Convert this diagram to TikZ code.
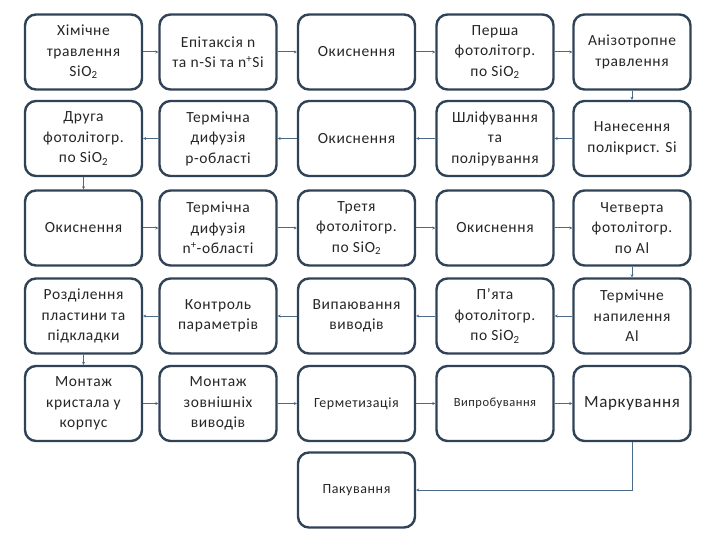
\documentclass[tikz,border=0pt]{standalone}
\usepackage{fontspec}
\setmainfont{Carlito}[LetterSpace=4]
\usetikzlibrary{arrows.meta}
\definecolor{bd}{HTML}{2F4256}
\definecolor{ln}{HTML}{4A6A8A}
\newcommand{\sub}[1]{\textsubscript{#1}}
\newcommand{\supp}[1]{\textsuperscript{#1}}
\begin{document}
\begin{tikzpicture}[x=1pt,y=-1pt,
 box/.style={draw=bd,line width=2.4pt,rounded corners=11pt,fill=white,minimum width=117pt,minimum height=75pt,inner sep=2pt,align=center,font=\fontsize{15.5}{20.5}\selectfont,text=black!85},
 ar/.style={draw=ln,line width=1pt,-{Stealth[length=3pt,width=3pt]}}]
\useasboundingbox (0,0) rectangle (720,540);
\def\xa{83.5}\def\xb{218}\def\xc{356.5}\def\xd{495}\def\xe{632}
\def\ya{52}\def\yb{138.5}\def\yc{228}\def\yd{316}\def\ye{403.5}
\node[box] (a1) at (\xa,\ya) {Хімічне\\травлення\\SiO\sub{2}};
\node[box] (a2) at (\xb,\ya) {Епітаксія n\\та n-Si та n\supp{+}Si};
\node[box] (a3) at (\xc,\ya) {Окиснення};
\node[box] (a4) at (\xd,\ya) {Перша\\фотолітогр.\\по SiO\sub{2}};
\node[box] (a5) at (\xe,\ya) {Анізотропне\\травлення};
\node[box] (b1) at (\xa,\yb) {Друга\\фотолітогр.\\по SiO\sub{2}};
\node[box] (b2) at (\xb,\yb) {Термічна\\дифузія\\р-області};
\node[box] (b3) at (\xc,\yb) {Окиснення};
\node[box] (b4) at (\xd,\yb) {Шліфування\\та\\полірування};
\node[box] (b5) at (\xe,\yb) {Нанесення\\полікрист. Si};
\node[box] (c1) at (\xa,\yc) {Окиснення};
\node[box] (c2) at (\xb,\yc) {Термічна\\дифузія\\n\supp{+}-області};
\node[box] (c3) at (\xc,\yc) {Третя\\фотолітогр.\\по SiO\sub{2}};
\node[box] (c4) at (\xd,\yc) {Окиснення};
\node[box] (c5) at (\xe,\yc) {Четверта\\фотолітогр.\\по Al};
\node[box] (d1) at (\xa,\yd) {Розділення\\пластини та\\підкладки};
\node[box] (d2) at (\xb,\yd) {Контроль\\параметрів};
\node[box] (d3) at (\xc,\yd) {Випаювання\\виводів};
\node[box] (d4) at (\xd,\yd) {П’ята\\фотолітогр.\\по SiO\sub{2}};
\node[box] (d5) at (\xe,\yd) {Термічне\\напилення\\Al};
\node[box] (e1) at (\xa,\ye) {Монтаж\\кристала у\\корпус};
\node[box] (e2) at (\xb,\ye) {Монтаж\\зовнішніх\\виводів};
\node[box,font=\fontsize{14}{17}\selectfont] (e3) at (\xc,\ye) {Герметизація};
\node[box,font=\fontsize{12.5}{15}\selectfont] (e4) at (\xd,\ye) {Випробування};
\node[box,font=\fontsize{17}{20}\selectfont] (e5) at (\xe,\ye) {Маркування};
\node[box,font=\fontsize{14}{17}\selectfont] (p) at (\xc,490) {Пакування};
\draw[ar] (a1)--(a2); \draw[ar] (a2)--(a3); \draw[ar] (a3)--(a4); \draw[ar] (a4)--(a5);
\draw[ar] (a5)--(b5);
\draw[ar] (b5)--(b4); \draw[ar] (b4)--(b3); \draw[ar] (b3)--(b2); \draw[ar] (b2)--(b1);
\draw[ar] (b1)--(c1);
\draw[ar] (c1)--(c2); \draw[ar] (c2)--(c3); \draw[ar] (c3)--(c4); \draw[ar] (c4)--(c5);
\draw[ar] (c5)--(d5);
\draw[ar] (d5)--(d4); \draw[ar] (d4)--(d3); \draw[ar] (d3)--(d2); \draw[ar] (d2)--(d1);
\draw[ar] (d1)--(e1);
\draw[ar] (e1)--(e2); \draw[ar] (e2)--(e3); \draw[ar] (e3)--(e4); \draw[ar] (e4)--(e5);
\draw[ar] (e5.south) |- (p.east);
\end{tikzpicture}
\end{document}
